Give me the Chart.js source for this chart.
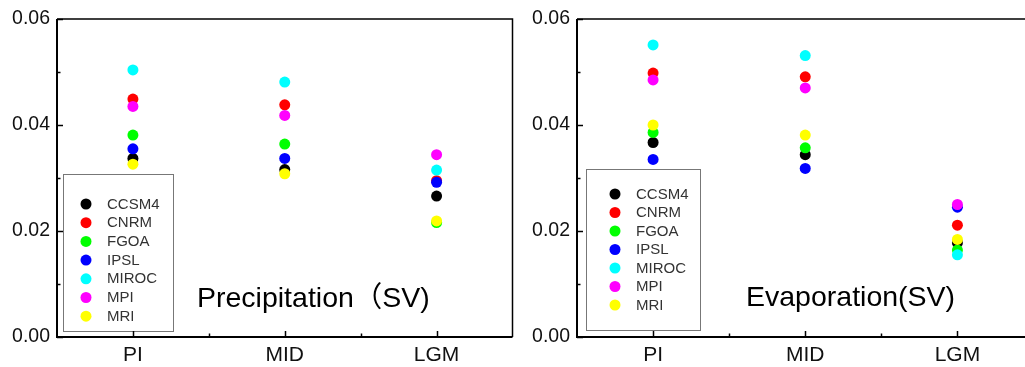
<!DOCTYPE html>
<html><head><meta charset="utf-8">
<script src="https://cdn.jsdelivr.net/npm/chart.js@4/dist/chart.umd.min.js"></script>
<style>
html,body{margin:0;padding:0;background:#fff;overflow:hidden;width:1025px;height:367px;}
#wrapL{position:absolute;left:0;top:0;width:518px;height:367px;}
#wrapR{position:absolute;left:515px;top:0;width:524px;height:367px;}
canvas{display:block;}
</style></head><body>
<div id="wrapL"><canvas id="cL" width="518" height="367"></canvas></div>
<div id="wrapR"><canvas id="cR" width="524" height="367"></canvas></div>
<script>
const categories = ['PI', 'MID', 'LGM'];
const models = ['CCSM4', 'CNRM', 'FGOA', 'IPSL', 'MIROC', 'MPI', 'MRI'];
const modelColors = ['#000000', '#ff0000', '#00ff00', '#0000ff', '#00ffff', '#ff00ff', '#ffff00'];
const yTicks = [0, 0.02, 0.04, 0.06];

// Precipitation (SV)
const precipCCSM4 = [0.0337, 0.0316, 0.0266];
const precipCNRM  = [0.0449, 0.0438, 0.0295];
const precipFGOA  = [0.0381, 0.0364, 0.0216];
const precipIPSL  = [0.0355, 0.0337, 0.0292];
const precipMIROC = [0.0504, 0.0481, 0.0315];
const precipMPI   = [0.0435, 0.0418, 0.0344];
const precipMRI   = [0.0326, 0.0308, 0.0219];

// Evaporation (SV)
const evapCCSM4 = [0.0367, 0.0344, 0.0178];
const evapCNRM  = [0.0498, 0.0491, 0.0211];
const evapFGOA  = [0.0386, 0.0357, 0.0164];
const evapIPSL  = [0.0335, 0.0318, 0.0245];
const evapMIROC = [0.0551, 0.0531, 0.0155];
const evapMPI   = [0.0485, 0.0470, 0.0250];
const evapMRI   = [0.0400, 0.0381, 0.0184];

const precipSeries = [precipCCSM4, precipCNRM, precipFGOA, precipIPSL, precipMIROC, precipMPI, precipMRI];
const evapSeries = [evapCCSM4, evapCNRM, evapFGOA, evapIPSL, evapMIROC, evapMPI, evapMRI];

const FONT = '"Liberation Sans", Arial, "Noto Sans CJK SC", sans-serif';

const framePlugin = {
  id: 'frame',
  afterDraw(chart, args, opts) {
    const ctx = chart.ctx, a = chart.chartArea;
    const xs = chart.scales.x, ys = chart.scales.y;
    ctx.save();
    ctx.strokeStyle = '#000';
    ctx.lineWidth = 1.5;
    for (let k = 0; k <= 6; k++) {
      const v = k / 100;
      const py = Math.round(ys.getPixelForValue(v)) + 0.5;
      const major = k % 2 === 0;
      ctx.beginPath(); ctx.moveTo(a.left, py); ctx.lineTo(a.left + (major ? 6 : 3.5), py); ctx.stroke();
    }
    for (let i = 0; i < categories.length; i++) {
      const px = Math.round(xs.getPixelForValue(i)) + 0.5;
      ctx.beginPath(); ctx.moveTo(px, a.bottom); ctx.lineTo(px, a.bottom - 6); ctx.stroke();
      if (i > 0) {
        const bx = Math.round((xs.getPixelForValue(i) + xs.getPixelForValue(i - 1)) / 2) + 0.5;
        ctx.beginPath(); ctx.moveTo(bx, a.bottom); ctx.lineTo(bx, a.bottom - 3.5); ctx.stroke();
      }
    }
    ctx.lineWidth = 1.5;
    ctx.beginPath(); ctx.moveTo(a.left, a.top); ctx.lineTo(a.right, a.top); ctx.lineTo(a.right, a.bottom); ctx.stroke();
    ctx.lineWidth = 2;
    ctx.beginPath(); ctx.moveTo(a.left, a.top); ctx.lineTo(a.left, a.bottom); ctx.lineTo(a.right, a.bottom); ctx.stroke();
    ctx.restore();
  },
  afterDatasetsDraw(chart, args, opts) {
    const ctx = chart.ctx;
    const b = opts.box;
    ctx.save();
    ctx.fillStyle = '#fff';
    ctx.fillRect(b.x, b.y, b.w, b.h);
    ctx.strokeStyle = '#777';
    ctx.lineWidth = 1;
    ctx.strokeRect(b.x + 0.5, b.y + 0.5, b.w, b.h);
    ctx.font = '15px ' + FONT;
    ctx.textBaseline = 'middle';
    chart.data.datasets.forEach((ds, i) => {
      const cy = b.y + b.first + i * b.step;
      ctx.fillStyle = ds.backgroundColor;
      ctx.beginPath(); ctx.arc(b.x + b.mx, cy, 5.5, 0, Math.PI * 2); ctx.fill();
      ctx.fillStyle = '#333';
      ctx.fillText(ds.label, b.x + b.tx, cy + 0.5);
    });
    ctx.fillStyle = '#000';
    ctx.font = '28.5px ' + FONT;
    ctx.textBaseline = 'middle';
    ctx.fillText(opts.title, opts.tx, opts.ty);
    ctx.restore();
  }
};

function makeChart(id, series, yWidth, padRight, box, title, tx, ty) {
  return new Chart(document.getElementById(id), {
    type: 'line',
    data: {
      labels: categories,
      datasets: models.map((m, i) => ({
        label: m,
        data: series[i],
        order: models.length - i,
        showLine: false,
        backgroundColor: modelColors[i],
        borderColor: modelColors[i],
        pointRadius: 5.5,
        pointBorderWidth: 0,
        pointHoverRadius: 5.5
      }))
    },
    options: {
      responsive: false,
      animation: false,
      events: [],
      layout: { padding: { left: 0, right: padRight, top: 19, bottom: 0 } },
      plugins: {
        legend: { display: false },
        tooltip: { enabled: false },
        frame: { box: box, title: title, tx: tx, ty: ty }
      },
      scales: {
        x: {
          type: 'category',
          offset: true,
          grid: { display: false, drawTicks: false, offset: true },
          border: { display: false },
          ticks: { color: '#111', font: { family: FONT, size: 21 }, padding: 6 },
          afterFit(s) { s.height = 30; }
        },
        y: {
          min: 0, max: 0.06,
          grid: { display: false, drawTicks: false },
          border: { display: false },
          afterBuildTicks(s) { s.ticks = yTicks.map(v => ({ value: v })); },
          ticks: { color: '#111', font: { family: FONT, size: 19.5 }, padding: 7,
                   callback: v => v.toFixed(2) },
          afterFit(s) { s.width = yWidth; }
        }
      }
    },
    plugins: [framePlugin]
  });
}

makeChart('cL', precipSeries, 57, 2,
  { x: 63, y: 174, w: 110, h: 157, mx: 23, tx: 44, first: 30, step: 18.7 },
  'Precipitation\uFF08SV)', 197, 299);
makeChart('cR', evapSeries, 62, 2,
  { x: 71, y: 169, w: 114, h: 161, mx: 29, tx: 50, first: 25, step: 18.5 },
  'Evaporation(SV)', 231, 298);
</script>
</body></html>
